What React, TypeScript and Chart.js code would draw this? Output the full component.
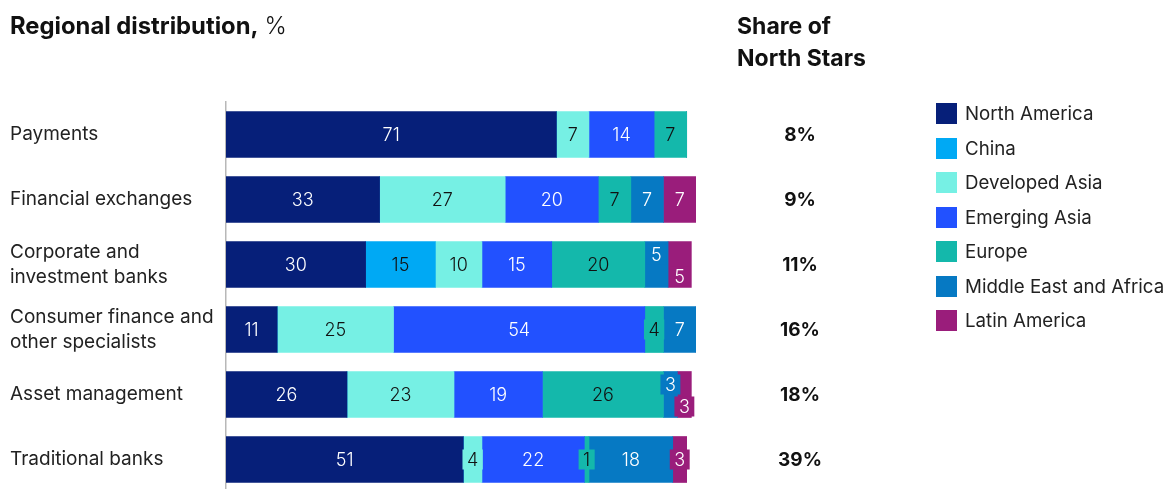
import React, { useEffect, useRef } from "react";
import { Chart, registerables } from "chart.js";

Chart.register(...registerables);

const categories: (string | string[])[] = [
  "Payments",
  "Financial exchanges",
  ["Corporate and", "investment banks"],
  ["Consumer finance and", "other specialists"],
  "Asset management",
  "Traditional banks",
];

const regions = [
  "North America",
  "China",
  "Developed Asia",
  "Emerging Asia",
  "Europe",
  "Middle East and Africa",
  "Latin America",
];

const northAmerica = [71, 33, 30, 11, 26, 51];
const china = [0, 0, 15, 0, 0, 0];
const developedAsia = [7, 27, 10, 25, 23, 4];
const emergingAsia = [14, 20, 15, 54, 19, 22];
const europe = [7, 7, 20, 4, 26, 1];
const middleEastAfrica = [0, 7, 5, 7, 3, 18];
const latinAmerica = [0, 7, 5, 0, 3, 3];

const shareOfNorthStars = ["8%", "9%", "11%", "16%", "18%", "39%"];

const seriesValues = [
  northAmerica,
  china,
  developedAsia,
  emergingAsia,
  europe,
  middleEastAfrica,
  latinAmerica,
];

const colors = ["#061f79", "#00a9f4", "#76f0e4", "#2251ff", "#14b8ab", "#0679c3", "#9a1d7b"];
const labelColors = ["#ffffff", "#111111", "#111111", "#ffffff", "#111111", "#ffffff", "#ffffff"];

const FONT = "Inter, 'Liberation Sans', Arial, sans-serif";
const SMALL = 5;

const labelPlugin = {
  id: "segmentLabels",
  afterDatasetsDraw(chart: any) {
    const ctx = chart.ctx;
    ctx.save();
    ctx.textAlign = "center";
    ctx.textBaseline = "middle";
    const nSets = chart.data.datasets.length;
    const nCats = chart.data.labels.length;
    for (let i = 0; i < nCats; i++) {
      ctx.font = `300 18px ${FONT}`;
      const segs: { ds: number; v: number; el: any }[] = [];
      for (let d = 0; d < nSets; d++) {
        const v = chart.data.datasets[d].data[i];
        if (v > 0) segs.push({ ds: d, v, el: chart.getDatasetMeta(d).data[i] });
      }
      for (let k = 0; k < segs.length; k++) {
        const s = segs[k];
        const small = s.v <= SMALL;
        let dy = 0;
        if (small) {
          const nextSmall = k + 1 < segs.length && segs[k + 1].v <= SMALL;
          const prevSmall = k > 0 && segs[k - 1].v <= SMALL;
          if (nextSmall) dy = -10;
          else if (prevSmall) dy = 12;
        }
        const x = (s.el.x + s.el.base) / 2;
        const y = s.el.y + dy;
        const txt = String(s.v);
        if (small) {
          const w = ctx.measureText(txt).width + 9;
          ctx.fillStyle = colors[s.ds];
          ctx.fillRect(x - w / 2, y - 10, w, 20);
        }
        ctx.fillStyle = labelColors[s.ds];
        ctx.fillText(txt, x, y + 1);
      }
      const yc = chart.scales.y.getPixelForValue(i);
      ctx.font = `700 19px ${FONT}`;
      ctx.fillStyle = "#111111";
      ctx.fillText(shareOfNorthStars[i], 800, yc + 1);
    }
    ctx.restore();
  },
};

export default function App() {
  const canvasRef = useRef<HTMLCanvasElement | null>(null);

  useEffect(() => {
    if (!canvasRef.current) return;
    const chart = new Chart(canvasRef.current, {
      type: "bar",
      data: {
        labels: categories as any,
        datasets: regions.map((r, d) => ({
          label: r,
          data: seriesValues[d],
          backgroundColor: colors[d],
          borderWidth: 0,
          barThickness: 46,
        })),
      },
      options: {
        indexAxis: "y",
        animation: false,
        responsive: true,
        maintainAspectRatio: false,
        layout: { padding: { top: 102, left: 10, right: 472, bottom: 0 } },
        plugins: {
          legend: { display: false },
          tooltip: { enabled: false },
          title: { display: false },
        },
        scales: {
          x: {
            stacked: true,
            display: false,
            min: 0,
            max: 101,
          },
          y: {
            stacked: true,
            afterFit(scale: any) {
              scale.width = 216;
              scale.paddingTop = 0;
              scale.paddingBottom = 0;
            },
            grid: { display: true, drawOnChartArea: false, drawTicks: false },
            border: { display: true, color: "#b8b8b8", width: 1.5 },
            ticks: {
              crossAlign: "far",
              padding: 0,
              color: "#222222",
              font: { family: FONT, size: 19, lineHeight: 1.32 },
            },
          },
        },
      },
      plugins: [labelPlugin],
    });
    return () => chart.destroy();
  }, []);

  return (
    <div
      style={{
        position: "fixed",
        left: 0,
        top: 0,
        width: 1168,
        height: 492,
        background: "#ffffff",
        fontFamily: FONT,
        color: "#111111",
      }}
    >
      <canvas ref={canvasRef} />
      <div
        style={{
          position: "absolute",
          left: 10,
          top: 11,
          fontSize: 23.8,
          lineHeight: "30px",
          whiteSpace: "nowrap",
        }}
      >
        <span style={{ fontWeight: 700 }}>Regional distribution,</span>
        <span style={{ fontWeight: 300, marginLeft: 6 }}>%</span>
      </div>
      <div
        style={{
          position: "absolute",
          left: 737,
          top: 10,
          fontSize: 23,
          lineHeight: "32px",
          fontWeight: 700,
          whiteSpace: "nowrap",
        }}
      >
        Share of
        <br />
        North Stars
      </div>
      <div style={{ position: "absolute", left: 936, top: 103 }}>
        {regions.map((r, d) => (
          <div
            key={r}
            style={{
              display: "flex",
              alignItems: "center",
              height: 21,
              marginBottom: 13.5,
              whiteSpace: "nowrap",
            }}
          >
            <div style={{ width: 21, height: 21, background: colors[d], marginRight: 8 }} />
            <span style={{ fontSize: 18.7, color: "#222222" }}>{r}</span>
          </div>
        ))}
      </div>
    </div>
  );
}
